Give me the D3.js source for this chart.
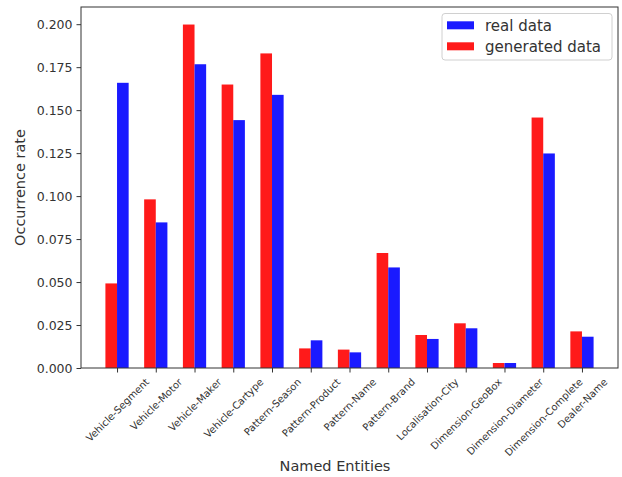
<!DOCTYPE html>
<html>
<head>
<meta charset="utf-8">
<script src="https://cdn.jsdelivr.net/npm/d3@7"></script>
<style>
  html, body { margin: 0; padding: 0; background: #fff; }
  svg { display: block; font-family: "DejaVu Sans", sans-serif; }
</style>
</head>
<body>
<svg id="chart" width="622" height="477"></svg>
<script>
const categories = ["Vehicle-Segment", "Vehicle-Motor", "Vehicle-Maker", "Vehicle-Cartype", "Pattern-Season", "Pattern-Product", "Pattern-Name", "Pattern-Brand", "Localisation-City", "Dimension-GeoBox", "Dimension-Diameter", "Dimension-Complete", "Dealer-Name"];
const realData = [0.1659, 0.0847, 0.1767, 0.1442, 0.1589, 0.0161, 0.0091, 0.0585, 0.0169, 0.0231, 0.0029, 0.1248, 0.0182];
const generatedData = [0.0492, 0.0981, 0.1998, 0.1649, 0.1830, 0.0114, 0.0107, 0.0669, 0.0192, 0.0260, 0.0029, 0.1457, 0.0213];
const yTicks = [0, 0.025, 0.05, 0.075, 0.1, 0.125, 0.15, 0.175, 0.2];
const seriesNames = ["real data", "generated data"];
const seriesColors = ["#1a1aff", "#ff1a1a"];

const svg = d3.select("#chart");
const L = 81, R = 618, T = 7, B = 368;
const barW = 0.3;

const x = d3.scaleLinear().domain([-0.93, categories.length - 1 + 0.93]).range([L, R]);
const y = d3.scaleLinear().domain([0, 0.21]).range([B, T]);

// bars
const idx = d3.range(categories.length);
svg.append("g").selectAll("rect.gen").data(idx).join("rect")
  .attr("x", i => x(i - barW)).attr("width", i => x(i) - x(i - barW))
  .attr("y", i => y(generatedData[i])).attr("height", i => y(0) - y(generatedData[i]))
  .attr("fill", seriesColors[1]);
svg.append("g").selectAll("rect.real").data(idx).join("rect")
  .attr("x", i => x(i)).attr("width", i => x(i + barW) - x(i))
  .attr("y", i => y(realData[i])).attr("height", i => y(0) - y(realData[i]))
  .attr("fill", seriesColors[0]);

// y axis
const yAxis = d3.axisLeft(y).tickValues(yTicks).tickFormat(d3.format(".3f")).tickSize(4.5).tickPadding(4).tickSizeOuter(0);
const gy = svg.append("g").attr("transform", `translate(${L},0)`).call(yAxis);
gy.select(".domain").remove();
gy.selectAll("text").attr("font-size", 12.5).attr("fill", "#333").attr("font-family", "DejaVu Sans");
gy.selectAll("line").attr("stroke", "#333");

// x axis
const xFont = 10;
const xAxis = d3.axisBottom(x).tickValues(idx).tickFormat(i => categories[i]).tickSize(4.5).tickSizeOuter(0);
const gx = svg.append("g").attr("transform", `translate(0,${B})`).call(xAxis);
gx.select(".domain").remove();
gx.selectAll("line").attr("stroke", "#333");
gx.selectAll("text").each(function(i) {
  const t = d3.select(this);
  t.attr("font-size", xFont).attr("fill", "#333").attr("font-family", "DejaVu Sans")
   .attr("text-anchor", "middle").attr("dy", null).attr("y", null)
   .attr("dominant-baseline", "central");
  const len = this.getComputedTextLength();
  const h = xFont * 1.17;
  const H = (len + h) * Math.SQRT1_2;
  const y0 = 8;
  t.attr("transform", `translate(0,${y0 + H / 2}) rotate(-45)`);
});

// frame
svg.append("rect").attr("x", L).attr("y", T).attr("width", R - L).attr("height", B - T)
  .attr("fill", "none").attr("stroke", "#333").attr("stroke-width", 1);

// axis labels
svg.append("text").attr("x", 335).attr("y", 471).attr("text-anchor", "middle")
  .attr("font-size", 14.5).attr("fill", "#333").text("Named Entities");
svg.append("text").attr("transform", `translate(25,${(T + B) / 2}) rotate(-90)`)
  .attr("text-anchor", "middle").attr("font-size", 14.5).attr("fill", "#333").text("Occurrence rate");

// legend
const lg = svg.append("g");
lg.append("rect").attr("x", 442).attr("y", 13.5).attr("width", 170).attr("height", 46.5)
  .attr("rx", 3).attr("fill", "#fff").attr("fill-opacity", 0.8).attr("stroke", "#d0d0d0");
seriesNames.forEach((name, k) => {
  const cy = 25.3 + k * 21;
  lg.append("rect").attr("x", 447).attr("y", cy - 4).attr("width", 27).attr("height", 8).attr("fill", seriesColors[k]);
  lg.append("text").attr("x", 485).attr("y", cy + 5.5).attr("font-size", 15).attr("fill", "#333").text(name);
});
</script>
</body>
</html>
